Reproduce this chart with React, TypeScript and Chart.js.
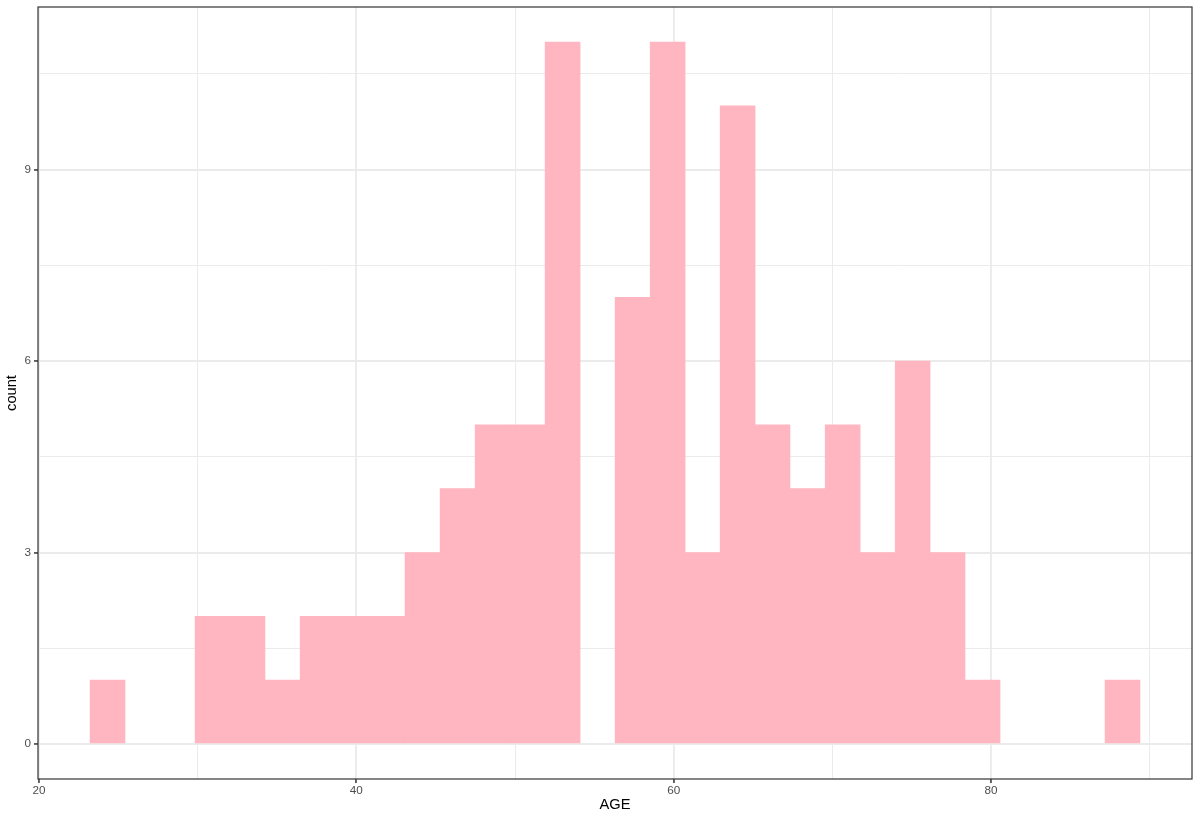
import React, { useEffect, useRef } from "react";
import { Chart, registerables } from "chart.js";

Chart.register(...registerables);

// Histogram bin centres (AGE) and counts
const binCenters = [
  24.32, 26.53, 28.73, 30.94, 33.14, 35.35, 37.56, 39.76, 41.97, 44.17,
  46.38, 48.59, 50.79, 53.0, 55.2, 57.41, 59.62, 61.82, 64.03, 66.23,
  68.44, 70.65, 72.85, 75.06, 77.26, 79.47, 81.68, 83.88, 86.09, 88.29,
];
const counts = [
  1, 0, 0, 2, 2, 1, 2, 2, 2, 3,
  4, 5, 5, 11, 0, 7, 11, 3, 10, 5,
  4, 5, 3, 6, 3, 1, 0, 0, 0, 1,
];
const xMajorTicks = [20, 40, 60, 80];
const xMinorTicks = [30, 50, 70, 90];
const yMajorTicks = [0, 3, 6, 9];
const yMinorTicks = [1.5, 4.5, 7.5, 10.5];
const xLimits = [19.937, 92.667];
const yLimits = [-0.55, 11.55];
const xTitle = "AGE";
const yTitle = "count";

const FONT = "'Liberation Sans', Arial, Helvetica, sans-serif";
const GRID = "#EBEBEB";
const DARK = "#333333";
const BAR = "#FFB6C1";

const panelBorder = {
  id: "panelBorder",
  afterDatasetsDraw(chart: any) {
    const { ctx, chartArea } = chart;
    const { left, top, right, bottom } = chartArea;
    ctx.save();
    ctx.strokeStyle = DARK;
    ctx.lineWidth = 1.2;
    ctx.strokeRect(left, top, right - left, bottom - top);
    ctx.restore();
  },
};

function isMajor(v: number, majors: number[]) {
  return majors.some((m) => Math.abs(m - v) < 1e-6);
}

function zeroPadding(scale: any) {
  scale.paddingTop = 0;
  scale.paddingBottom = 0;
  scale.paddingLeft = 0;
  scale.paddingRight = 0;
}

export default function App() {
  const ref = useRef<HTMLCanvasElement | null>(null);

  useEffect(() => {
    if (!ref.current) return;
    const data = binCenters.map((x, i) => ({ x, y: counts[i] }));
    const chart = new Chart(ref.current, {
      type: "bar",
      data: {
        datasets: [
          {
            data: data as any,
            backgroundColor: (ctx: any) =>
              ctx.raw && ctx.raw.y > 0 ? BAR : "rgba(0,0,0,0)",
            borderWidth: 0,
            barPercentage: 1,
            categoryPercentage: 1,
          },
        ],
      },
      plugins: [panelBorder],
      options: {
        responsive: false,
        animation: false,
        layout: { padding: { left: 0, top: 7, right: 8, bottom: 0 } },
        plugins: { legend: { display: false }, tooltip: { enabled: false } },
        scales: {
          x: {
            type: "linear",
            offset: false,
            min: xLimits[0],
            max: xLimits[1],
            afterBuildTicks: (scale: any) => {
              scale.ticks = [...xMajorTicks, ...xMinorTicks]
                .sort((a, b) => a - b)
                .map((v) => ({ value: v }));
            },
            afterFit: (scale: any) => {
              scale.height = 41;
              zeroPadding(scale);
            },
            border: { display: false },
            grid: {
              offset: false,
              color: GRID,
              lineWidth: (ctx: any) =>
                ctx.tick && isMajor(ctx.tick.value, xMajorTicks) ? 1.9 : 1,
              drawTicks: true,
              tickLength: 4,
              tickColor: (ctx: any) =>
                ctx.tick && isMajor(ctx.tick.value, xMajorTicks) ? DARK : "rgba(0,0,0,0)",
              tickWidth: 1.5,
            },
            ticks: {
              color: "#4D4D4D",
              font: { family: FONT, size: 11.7 },
              padding: 1,
              maxRotation: 0,
              autoSkip: false,
              callback: (v: any) => (isMajor(Number(v), xMajorTicks) ? String(v) : ""),
            },
            title: {
              display: true,
              text: xTitle,
              color: "#000000",
              font: { family: FONT, size: 14.67 },
              padding: { top: 0, bottom: 6.2 },
            },
          },
          y: {
            type: "linear",
            min: yLimits[0],
            max: yLimits[1],
            afterBuildTicks: (scale: any) => {
              scale.ticks = [...yMajorTicks, ...yMinorTicks]
                .sort((a, b) => a - b)
                .map((v) => ({ value: v }));
            },
            afterFit: (scale: any) => {
              scale.width = 38;
              zeroPadding(scale);
            },
            border: { display: false },
            grid: {
              color: GRID,
              lineWidth: (ctx: any) =>
                ctx.tick && isMajor(ctx.tick.value, yMajorTicks) ? 1.9 : 1,
              drawTicks: true,
              tickLength: 4,
              tickColor: (ctx: any) =>
                ctx.tick && isMajor(ctx.tick.value, yMajorTicks) ? DARK : "rgba(0,0,0,0)",
              tickWidth: 1.5,
            },
            ticks: {
              color: "#4D4D4D",
              font: { family: FONT, size: 11.7 },
              padding: 3,
              autoSkip: false,
              callback: (v: any) => (isMajor(Number(v), yMajorTicks) ? String(v) : ""),
            },
            title: {
              display: true,
              text: yTitle,
              color: "#000000",
              font: { family: FONT, size: 14.67 },
              padding: { top: 3.5, bottom: 0 },
            },
          },
        },
      },
    });
    return () => chart.destroy();
  }, []);

  return (
    <div style={{ position: "absolute", left: 0, top: 0, width: 1200, height: 820, background: "#ffffff" }}>
      <canvas ref={ref} width={1200} height={820} style={{ display: "block" }} />
    </div>
  );
}
